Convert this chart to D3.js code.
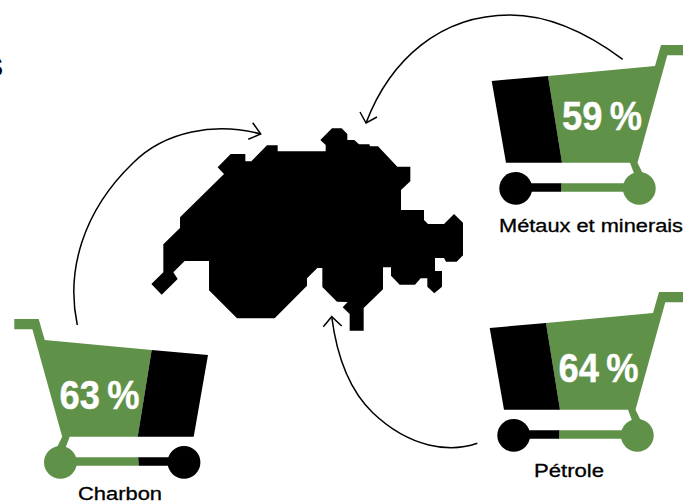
<!DOCTYPE html>
<html>
<head>
    <meta charset="utf-8">
    <title>Charbon, pétrole, métaux et minerais</title>
    <style>
        html, body { margin: 0; padding: 0; background: #fff; overflow: hidden; }
        .share { font-family: 'Liberation Sans', sans-serif; font-weight: 700; font-size: 41px; fill: #fff; stroke: #fff; stroke-width: 0.4; }
        .name { font-family: 'Liberation Sans', sans-serif; font-size: 18px; fill: #000; stroke: #000; stroke-width: 0.3; }
    </style>
</head>
<body>
<div id="chart"></div>
<script src="https://cdn.jsdelivr.net/npm/d3@7"></script>
<script>
    var categories = ['Métaux et minerais', 'Pétrole', 'Charbon'];
    var shares = [59, 64, 63];

    var width = 683;
    var height = 502;
    var green = '#609149';

    var svg = d3.select('#chart')
        .append('svg')
        .attr('width', width)
        .attr('height', height);

    var line = d3.line();

    // placement of each cart, the charbon one is mirrored
    var carts = [
        { dx: 0, dy: 0, flip: false, shareX: 602, shareY: 130, nameX: 499, nameY: 232, nameW: 184 },
        { dx: -2, dy: 247, flip: false, shareX: 598.5, shareY: 381.5, nameX: 534, nameY: 477, nameW: 70 },
        { dx: 699.7, dy: 274, flip: true, shareX: 99.5, shareY: 409, nameX: 78, nameY: 500, nameW: 84 }
    ];

    // the picture is a pictogram: the green/black split is the same on all
    // three carts, the share is only carried by the label
    var basketBlack = [[491.7, 81], [548, 76], [562, 162.7], [506, 162.7]];
    var basketGreen = [[548, 76], [655, 66], [661, 45], [685.4, 45], [685.4, 55.3], [667.3, 55.3],
        [637.5, 162.7], [644, 176], [639, 191.7], [561, 191.7], [561.5, 183.3], [635, 183.3], [635, 176], [630, 162.7], [562, 162.7]];
    var axleBlack = [[515.7, 183.3], [561.5, 183.3], [561, 191.7], [515.7, 191.7]];
    var wheelY = 188.3;
    var wheelLeft = 515.7;
    var wheelRight = 639.3;
    var wheelR = 16.4;

    carts.forEach(function(c, i) {
        var g = svg.append('g')
            .attr('transform', 'translate(' + c.dx + ',' + c.dy + ')' + (c.flip ? ' scale(-1,1)' : ''));
        g.append('path').attr('d', line(basketGreen) + 'Z').attr('fill', green);
        g.append('path').attr('d', line(basketBlack) + 'Z').attr('fill', '#000');
        g.append('path').attr('d', line(axleBlack) + 'Z').attr('fill', '#000');
        g.append('circle').attr('cx', wheelLeft).attr('cy', wheelY).attr('r', wheelR).attr('fill', '#000');
        g.append('circle').attr('cx', wheelRight).attr('cy', wheelY).attr('r', wheelR).attr('fill', green);

        svg.append('text')
            .attr('class', 'share')
            .attr('x', c.shareX)
            .attr('y', c.shareY)
            .attr('text-anchor', 'middle')
            .attr('textLength', 80)
            .attr('lengthAdjust', 'spacingAndGlyphs')
            .text(shares[i] + '\u2009%');

        svg.append('text')
            .attr('class', 'name')
            .attr('x', c.nameX)
            .attr('y', c.nameY)
            .attr('textLength', c.nameW)
            .attr('lengthAdjust', 'spacingAndGlyphs')
            .text(categories[i]);
    });

    // outline of Switzerland, traced on a 3x grid
    var outline = [[233,172],[272,132],[316,132],[316,154],[334,154],[381,106],[413,106],[413,124],[557,124],[557,105],
        [541,90],[576,55],[605,55],[622,72],[622,90],[643,90],[657,103],[688,103],[690,109],[714,109],[772,170],[811,170],
        [811,214],[783,240],[783,300],[852,300],[852,330],[864,342],[912,342],[942,312],[969,338],[969,436],[950,455],
        [918,455],[912,444],[885,444],[885,483],[906,483],[906,530],[883,550],[862,530],[862,505],[842,505],[825,524],
        [779,524],[753,497],[753,472],[729,472],[729,538],[671,594],[671,662],[629,662],[629,612],[608,592],[623,576],
        [591,575],[547,531],[547,474],[532,474],[501,505],[501,527],[404,625],[291,625],[207,541],[207,453],[134,453],
        [100,487],[113,507],[65,554],[34,522],[70,487],[70,403],[120,354],[120,322],[252,192]];
    var mapX = d3.scaleLinear().domain([0, 340]).range([140, 140 + 340 / 3]);
    var mapY = d3.scaleLinear().domain([0, 230]).range([110, 110 + 230 / 3]);

    svg.append('path')
        .attr('d', d3.line().x(function(d) { return mapX(d[0]); }).y(function(d) { return mapY(d[1]); })(outline) + 'Z')
        .attr('fill', '#000');

    // arrows, two bezier pieces each
    var arrows = [
        { start: [77.3, 325], pieces: [[66, 272, 82, 212, 133, 163], [165, 131, 215, 122, 260.7, 134]], head: [[252.7,122.7],[260.7,134],[248.3,139.3]] },
        { start: [622.7, 59.3], pieces: [[590, 35, 550, 15, 510, 15], [440, 15, 390, 60, 366, 123]], head: [[360,112],[366,123],[377,117]] },
        { start: [477.3, 443.3], pieces: [[450, 453, 410, 448, 373, 413], [350, 391, 337, 358, 331.7, 316.7]], head: [[323.3,326.7],[331.7,316.7],[341.7,326]] }
    ];
    arrows.forEach(function(a) {
        var p = d3.path();
        p.moveTo(a.start[0], a.start[1]);
        a.pieces.forEach(function(b) {
            p.bezierCurveTo(b[0], b[1], b[2], b[3], b[4], b[5]);
        });
        svg.append('path').attr('d', p.toString()).attr('fill', 'none').attr('stroke', '#000').attr('stroke-width', 1.5);
        svg.append('path').attr('d', line(a.head)).attr('fill', 'none').attr('stroke', '#000').attr('stroke-width', 1.5);
    });

    // cropped letter on the left edge
    svg.append('text')
        .attr('x', 3)
        .attr('y', 76)
        .attr('text-anchor', 'end')
        .attr('font-family', "'Liberation Sans', sans-serif")
        .attr('font-weight', 700)
        .attr('font-size', 25)
        .text('S');
</script>
</body>
</html>
